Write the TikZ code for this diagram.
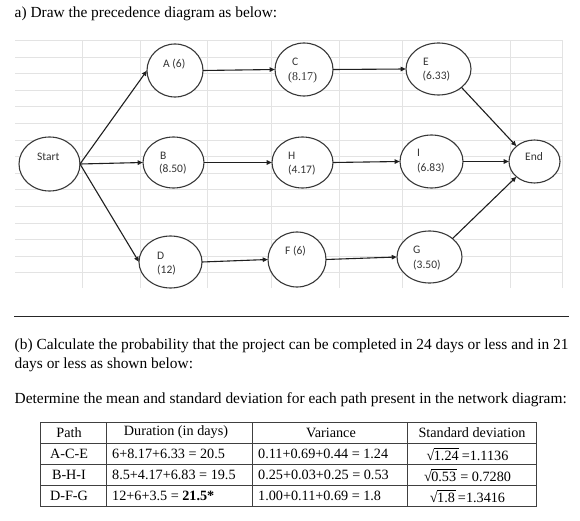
\documentclass[tikz,border=0pt]{standalone}
\usepackage{fontspec}
\setmainfont{Liberation Serif}
\newfontfamily\calfont{Carlito}
\usetikzlibrary{arrows.meta,shapes.geometric}
\newcommand\rootof[1]{\mbox{√\kern-0.04em\setbox0\hbox{#1\kern0.05em}\rlap{\rule[0.80em]{\wd0}{0.05em}}\box0}}
\begin{document}
\begin{tikzpicture}[x=1pt,y=-1pt,
  gridline/.style={draw=black!11,line width=0.8pt},
  evt/.style={ellipse,draw=black!78,fill=white,line width=1.1pt,inner sep=0pt,outer sep=0pt},
  conn/.style={draw=black!88,line width=1.1pt,-{Triangle[length=5pt,width=4.5pt]},shorten >=0.3pt},
  lbl/.style={anchor=base west,inner sep=0pt,font=\calfont\fontsize{11.5}{13}\selectfont,text=black!80},
  lblserif/.style={anchor=base west,inner sep=0pt,font=\fontsize{12}{14}\selectfont,text=black!80},
  para/.style={anchor=base west,inner sep=0pt,font=\fontsize{15.4}{18}\selectfont},
  tline/.style={draw=black!75,line width=0.8pt},
  tcell/.style={inner sep=0pt,font=\fontsize{14.2}{16}\selectfont},
]
\useasboundingbox (0,0) rectangle (580,521);
% background grid
\foreach \y in {40.4,57.0,73.6,90.2,106.8,123.4,140.0,156.6,173.2,189.8,206.4,223.0,239.6,256.2,272.8}
  \draw[gridline] (15,\y) -- (562,\y);
\foreach \x in {82,140,207,271,339,402,510,562}
  \draw[gridline] (\x,40.4) -- (\x,288);
% title
\node[para] (ta) at (14.5,18) {a) Draw the precedence diagram as below:};
% events
\node[evt,minimum width=61pt,minimum height=54pt] (Start) at (49.5,164) {};
\node[evt,minimum width=56pt,minimum height=53pt] (A) at (175,70.5) {};
\node[evt,minimum width=58pt,minimum height=53pt] (C) at (304,69.5) {};
\node[evt,minimum width=65pt,minimum height=52pt] (E) at (438.5,69) {};
\node[evt,minimum width=61pt,minimum height=51pt] (B) at (173.5,162.5) {};
\node[evt,minimum width=61pt,minimum height=51pt] (H) at (302.5,162.5) {};
\node[evt,minimum width=63pt,minimum height=53pt] (I) at (431.5,161.5) {};
\node[evt,minimum width=51pt,minimum height=43pt] (End) at (534.5,161.5) {};
\node[evt,minimum width=63pt,minimum height=52pt] (D) at (170.5,262) {};
\node[evt,minimum width=58pt,minimum height=55pt] (F) at (297,259.5) {};
\node[evt,minimum width=65pt,minimum height=52pt] (G) at (429.5,257) {};
% labels
\node[lbl] (Start-t) at (37,160.7) {Start};
\node[lbl] (A-t) at (163,67.7) {A (6)};
\node[lbl] (C-t1) at (292,65.7) {C};
\node[lblserif] (C-t2) at (288,81) {(8.17)};
\node[lbl] (E-t1) at (423,65.7) {E};
\node[lbl] (E-t2) at (422.5,79.7) {(6.33)};
\node[lbl] (B-t1) at (160,159.7) {B};
\node[lbl] (B-t2) at (159,172.7) {(8.50)};
\node[lbl] (H-t1) at (288,159.7) {H};
\node[lbl] (H-t2) at (288,173.7) {(4.17)};
\node[lbl] (I-t1) at (417,156.7) {I};
\node[lbl] (I-t2) at (417,171.7) {(6.83)};
\node[lbl] (End-t) at (525,160.7) {End};
\node[lbl] (D-t1) at (157,259.7) {D};
\node[lbl] (D-t2) at (157,273.7) {(12)};
\node[lbl] (F-t) at (285,254.7) {F (6)};
\node[lbl] (G-t1) at (413,253.7) {G};
\node[lbl] (G-t2) at (413,268.7) {(3.50)};
% connectors
\draw[conn] (Start.east) -- (A.west);
\draw[conn] (Start.east) -- (B.west);
\draw[conn] (Start.east) -- (D.west);
\draw[conn] (A.east) -- (C.west);
\draw[conn] (C.east) -- (E.west);
\draw[conn] (E.south east) -- (End.north west);
\draw[conn] (B.east) -- (H.west);
\draw[conn] (H.east) -- (I.west);
\draw[conn] (I.east) -- (End.west);
\draw[conn] (D.east) -- (F.west);
\draw[conn] (F.east) -- (G.west);
\draw[conn] (G.north east) -- (End.south west);
% separator
\draw[draw=black!85,line width=0.9pt] (14,316) -- (569,316);
% part b
\node[para] (tb1) at (14.5,349) {(b) Calculate the probability that the project can be completed in 24 days or less and in 21};
\node[para] (tb2) at (14.5,368) {days or less as shown below:};
\node[para] (tb3) at (14.5,403) {Determine the mean and standard deviation for each path present in the network diagram:};
% table
\draw[tline] (40,422) rectangle (536,506);
\foreach \y in {443,464,485} \draw[tline] (40,\y) -- (536,\y);
\foreach \x in {106,252,407} \draw[tline] (\x,422) -- (\x,506);
\node[tcell] (h1) at (69,432.5) {Path};
\node[tcell] (h2) at (176,432.5) {Duration (in days)};
\node[tcell] (h3) at (331,432.5) {Variance};
\node[tcell] (h4) at (472,432.5) {Standard deviation};
\node[tcell] (p1) at (69,453.5) {A-C-E};
\node[tcell] (p2) at (69,474.5) {B-H-I};
\node[tcell] (p3) at (69,495.5) {D-F-G};
\node[tcell,anchor=west] (d1) at (112,453.5) {6+8.17+6.33 = 20.5};
\node[tcell,anchor=west] (d2) at (112,474.5) {8.5+4.17+6.83 = 19.5};
\node[tcell,anchor=west] (d3) at (112,495.5) {12+6+3.5 = \textbf{21.5*}};
\node[tcell,anchor=west] (v1) at (258,453.5) {0.11+0.69+0.44 = 1.24};
\node[tcell,anchor=west] (v2) at (258,474.5) {0.25+0.03+0.25 = 0.53};
\node[tcell,anchor=west] (v3) at (258,495.5) {1.00+0.11+0.69 = 1.8};
\node[tcell] (s1) at (467.5,454.5) {\rootof{1.24}\,=1.1136};
\node[tcell] (s2) at (467.5,475.5) {\rootof{0.53} = 0.7280};
\node[tcell] (s3) at (467.5,496.5) {\rootof{1.8}\,=1.3416};
\end{tikzpicture}
\end{document}
